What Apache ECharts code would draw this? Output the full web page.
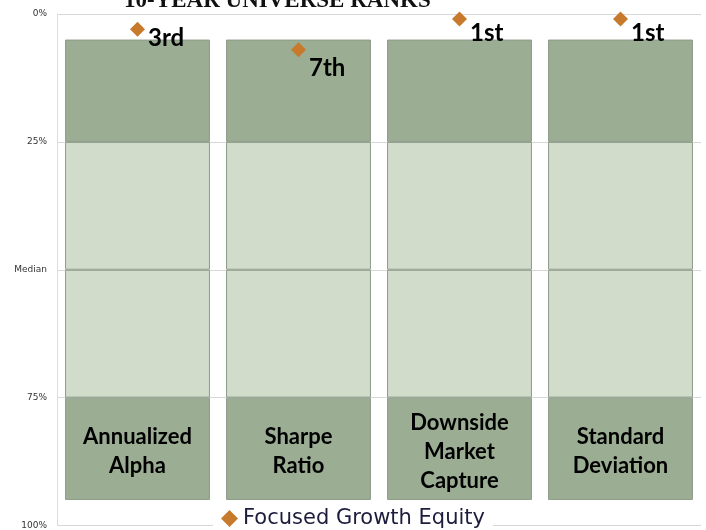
<!DOCTYPE html>
<html>
<head>
<meta charset="utf-8">
<script src="https://cdn.jsdelivr.net/npm/echarts@6/dist/echarts.min.js"></script>
<style>
  html, body { margin: 0; padding: 0; background: #fff; }
  #chart { width: 706px; height: 530px; }
</style>
</head>
<body>
<div id="chart"></div>
<script>
// categories and percentile bands (0 = best, 100 = worst)
const categories = ['Annualized\nAlpha', 'Sharpe\nRatio', 'Downside\nMarket\nCapture', 'Standard\nDeviation'];
const topDecile = [5, 5, 5, 5];
const firstQuartile = [25, 25, 25, 25];
const median = [50, 50, 50, 50];
const thirdQuartile = [75, 75, 75, 75];
const bottomDecile = [95, 95, 95, 95];

// fund ranks
const fundName = 'Focused Growth Equity';
const fundRanks = [3, 7, 1, 1];
const rankLabels = ['3rd', '7th', '1st', '1st'];

const yTicks = { 0: '0%', 25: '25%', 50: 'Median', 75: '75%', 100: '100%' };

const dark = '#9bae94';
const light = '#d2dccb';
const edge = '#8d9b89';

const diff = (a, b) => a.map((v, i) => v - b[i]);

// label nudges so rank text sits like the original
const labelDy = [9, 18, 14, 14];

const chart = echarts.init(document.getElementById('chart'));

const band = (name, data, color, extra) => Object.assign({
  name: name,
  type: 'bar',
  stack: 'band',
  barWidth: '90%',
  data: data,
  itemStyle: { color: color, borderColor: edge, borderWidth: 1 },
  emphasis: { disabled: true },
  silent: true
}, extra || {});

chart.setOption({
  animation: false,
  title: {
    text: '10-YEAR UNIVERSE RANKS',
    left: 124,
    top: -10,
    padding: 0,
    textStyle: { fontFamily: 'Liberation Serif', fontWeight: 'bold', fontSize: 23, color: '#111' }
  },
  legend: {
    data: [{ name: fundName, icon: 'diamond' }],
    left: 'center',
    bottom: -2,
    itemWidth: 17,
    itemHeight: 17,
    itemGap: 6,
    padding: [3, 8, 3, 8],
    backgroundColor: '#fff',
    textStyle: { fontFamily: 'DejaVu Sans', fontSize: 21, color: '#1c1c3c' }
  },
  grid: { left: 57, right: 5, top: 14, bottom: 2, containLabel: false },
  xAxis: {
    type: 'category',
    data: categories,
    axisLine: { show: false },
    axisTick: { show: false },
    axisLabel: { show: false },
    splitLine: { show: false }
  },
  yAxis: {
    type: 'value',
    inverse: true,
    min: 0,
    max: 100,
    interval: 25,
    axisLine: { show: true, lineStyle: { color: '#dcdcdc' } },
    axisTick: { show: false },
    axisLabel: {
      margin: 10,
      fontFamily: 'DejaVu Sans',
      fontSize: 9,
      color: '#333',
      formatter: v => yTicks[v]
    },
    splitLine: { show: true, lineStyle: { color: '#d8d8d8' } }
  },
  series: [
    band('base', topDecile, 'transparent', { itemStyle: { color: 'transparent', borderWidth: 0 } }),
    band('q1', diff(firstQuartile, topDecile), dark),
    band('q2', diff(median, firstQuartile), light),
    band('q3', diff(thirdQuartile, median), light),
    band('q4', diff(bottomDecile, thirdQuartile), dark, {
      label: {
        show: true,
        position: 'inside',
        offset: [0, 3],
        formatter: p => p.name,
        fontFamily: 'Lato',
        fontWeight: 'bold',
        fontSize: 22,
        lineHeight: 29,
        color: '#000'
      }
    }),
    {
      name: fundName,
      type: 'scatter',
      symbol: 'diamond',
      symbolSize: 15,
      itemStyle: { color: '#c77a2b', opacity: 1 },
      z: 5,
      data: fundRanks.map((v, i) => ({
        value: v,
        label: { offset: [0, labelDy[i]] }
      })),
      label: {
        show: true,
        position: 'right',
        distance: 3,
        formatter: p => rankLabels[p.dataIndex],
        fontFamily: 'Lato',
        fontWeight: 'bold',
        fontSize: 24,
        color: '#000'
      }
    }
  ]
});
</script>
</body>
</html>
